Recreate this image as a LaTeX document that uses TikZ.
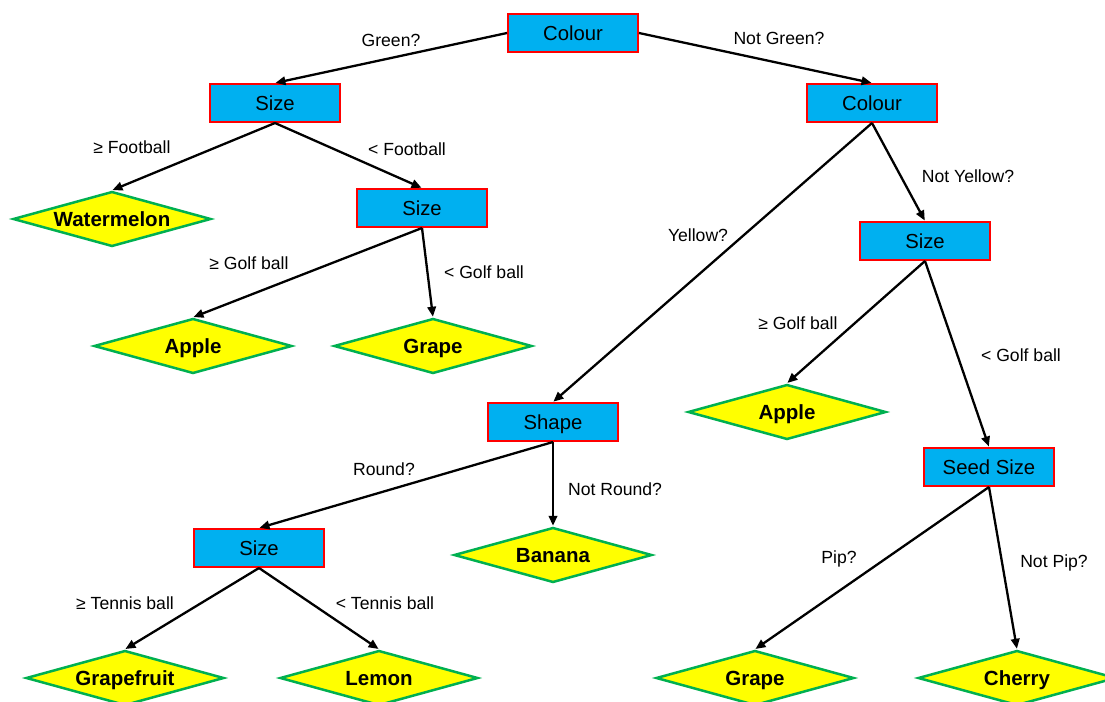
\documentclass[tikz,border=0pt]{standalone}
\usepackage{fontspec}
\setmainfont{Liberation Sans}
\usetikzlibrary{shapes.geometric,arrows.meta}
\definecolor{boxblue}{HTML}{00B0F0}
\definecolor{boxred}{HTML}{FF0000}
\definecolor{leafyellow}{HTML}{FFFF00}
\definecolor{leafgreen}{HTML}{00B050}
\tikzset{
  test/.style={draw=boxred, fill=boxblue, line width=2pt, minimum width=130pt,
    minimum height=38pt, inner sep=0pt, text height=14.5pt, text depth=0pt,
    font=\fontsize{20.3}{20.3}\selectfont},
  leaf/.style={diamond, aspect=3.6, draw=leafgreen, fill=leafyellow, line width=2.5pt,
    minimum width=198pt, minimum height=55pt, inner sep=0pt,
    text height=14.5pt, text depth=0pt,
    font=\fontsize{20.5}{20.5}\selectfont\bfseries},
  link/.style={line width=2.3pt, -{Triangle[length=10pt,width=8.5pt]}, shorten >=0.5pt},
  lab/.style={font=\fontsize{17.6}{17.6}\selectfont, inner sep=0pt}
}
\begin{document}
\begin{tikzpicture}[x=1pt, y=-1pt]
\useasboundingbox (0,0) rectangle (1105,701);
% decision boxes
\node[test] (c1) at (573,33) {Colour};
\node[test] (s1) at (275,103) {Size};
\node[test] (c2) at (872,103) {Colour};
\node[test] (s2) at (422,208) {Size};
\node[test] (s3) at (925,241) {Size};
\node[test] (sh) at (553,422) {Shape};
\node[test] (ss) at (989,467) {Seed Size};
\node[test] (s4) at (259,548) {Size};
% outcomes
\node[leaf] (wm) at (112,219) {Watermelon};
\node[leaf] (ap1) at (193,346) {Apple};
\node[leaf] (gr1) at (433,346) {Grape};
\node[leaf] (ap2) at (787,412) {Apple};
\node[leaf] (ba) at (553,555) {Banana};
\node[leaf] (gf) at (125,678) {Grapefruit};
\node[leaf] (le) at (379,678) {Lemon};
\node[leaf] (gr2) at (755,678) {Grape};
\node[leaf] (ch) at (1017,678) {Cherry};
% branches
\draw[link] (c1.west) -- (s1.north);
\draw[link] (c1.east) -- (c2.north);
\draw[link] (s1.south) -- (wm.north);
\draw[link] (s1.south) -- (s2.north);
\draw[link] (c2.south) -- (sh.north);
\draw[link] (c2.south) -- (s3.north);
\draw[link] (s2.south) -- (ap1.north);
\draw[link] (s2.south) -- (gr1.north);
\draw[link] (s3.south) -- (ap2.north);
\draw[link] (s3.south) -- (ss.north);
\draw[link] (sh.south) -- (s4.north);
\draw[link] (sh.south) -- (ba.north);
\draw[link] (s4.south) -- (gf.north);
\draw[link] (s4.south) -- (le.north);
\draw[link] (ss.south) -- (gr2.north);
\draw[link] (ss.south) -- (ch.north);
% branch conditions
\node[lab] (l1) at (391,40) {Green?};
\node[lab] (l2) at (779,38) {Not Green?};
\node[lab] (l3) at (132,147) {≥ Football};
\node[lab] (l4) at (407,149) {< Football};
\node[lab] (l5) at (698,235) {Yellow?};
\node[lab] (l6) at (968,176) {Not Yellow?};
\node[lab] (l7) at (249,263) {≥ Golf ball};
\node[lab] (l8) at (484,272) {< Golf ball};
\node[lab] (l9) at (798,323) {≥ Golf ball};
\node[lab] (l10) at (1021,355) {< Golf ball};
\node[lab] (l11) at (384,469) {Round?};
\node[lab] (l12) at (615,489) {Not Round?};
\node[lab] (l13) at (125,603) {≥ Tennis ball};
\node[lab] (l14) at (385,603) {< Tennis ball};
\node[lab] (l15) at (839,559) {Pip?};
\node[lab] (l16) at (1054,563) {Not Pip?};
\end{tikzpicture}
\end{document}
